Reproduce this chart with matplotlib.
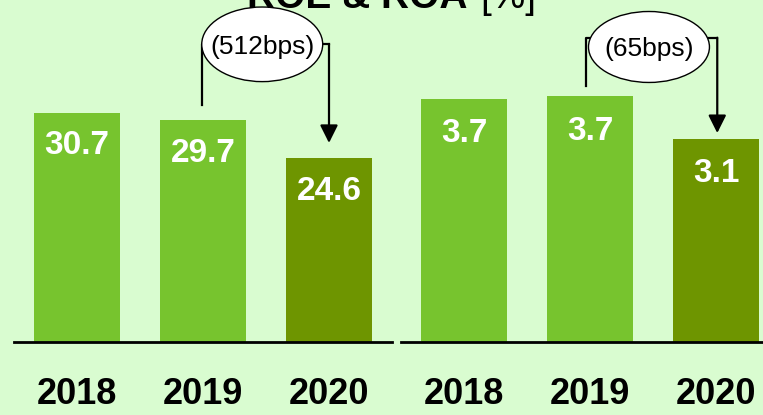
import matplotlib.pyplot as plt
from matplotlib.patches import Ellipse

# data
years = ['2018', '2019', '2020']
roe = [30.7, 29.72, 24.60]
roa = [3.70, 3.74, 3.09]
roe_labels = ['30.7', '29.7', '24.6']
roa_labels = ['3.7', '3.7', '3.1']
roe_change = '(512bps)'
roa_change = '(65bps)'

bg = '#d9fcd0'
light = '#77c42e'
dark = '#6e9500'
colors = [light, light, dark]
sans = ['Liberation Sans', 'DejaVu Sans']

W, H = 763, 415
fig = plt.figure(figsize=(W / 100, H / 100), dpi=100, facecolor=bg)

base = 73 / H
ax1 = fig.add_axes([14 / W, base, 378 / W, 342 / H])
ax2 = fig.add_axes([401 / W, base, 378 / W, 342 / H])


def panel(ax, vals, labels, ytop, off, change, ell, link):
    ax.set_facecolor(bg)
    x = range(len(vals))
    ax.bar(x, vals, width=0.69, color=colors, zorder=2)
    ax.set_xlim(-0.5, 2.5)
    ax.set_ylim(0, ytop)
    for s in ['top', 'right', 'left']:
        ax.spines[s].set_visible(False)
    ax.spines['bottom'].set_linewidth(2)
    ax.set_yticks([])
    ax.set_xticks(list(x))
    ax.set_xticklabels(years, family=sans, fontweight='bold', fontsize=26)
    ax.tick_params(axis='x', length=0, pad=25)
    for i, v in enumerate(vals):
        ax.text(i, v - off, labels[i], ha='center', va='center', color='white',
                family=sans, fontweight='bold', fontsize=24, zorder=3)
    # bracket + arrow showing the change from 2019 to 2020
    xl, yl, yh, xr, tip = link
    ax.plot([xl, xl, xr], [yl, yh, yh], color='black', lw=1.6, clip_on=False, zorder=3)
    ax.annotate('', xy=(xr, tip), xytext=(xr, yh + 0.001),
                arrowprops=dict(arrowstyle='-|>,head_length=0.6,head_width=0.3',
                                mutation_scale=18, color='black', lw=1.6,
                                shrinkA=0, shrinkB=0), annotation_clip=False, zorder=3)
    cx, cy, ew, eh = ell
    ax.add_patch(Ellipse((cx, cy), ew, eh, facecolor='white', edgecolor='black',
                         lw=1.0, clip_on=False, zorder=4))
    ax.text(cx, cy - eh * 0.03, change, ha='center', va='center', fontsize=19,
            family=sans, zorder=5)


panel(ax1, roe, roe_labels, 45.84, 4.4, roe_change,
      (1.47, 39.9, 0.96, 10.0),
      (0.99, roe[1] + 2.05, 39.95, 2.0, roe[2] + 2.08))
panel(ax2, roa, roa_labels, 5.205, 0.53, roa_change,
      (1.468, 4.49, 0.96, 1.08),
      (0.97, roa[1] + 0.16, 4.63, 2.01, roa[2] + 0.09))

fig.text(467 / W, 407 / H, 'ROE & ROA', ha='right', va='baseline',
         fontsize=28, fontweight='bold', family=sans)
fig.text(480 / W, 407 / H, '[%]', ha='left', va='baseline',
         fontsize=28, family=sans)

fig.savefig('out.png', dpi=100, facecolor=bg)
